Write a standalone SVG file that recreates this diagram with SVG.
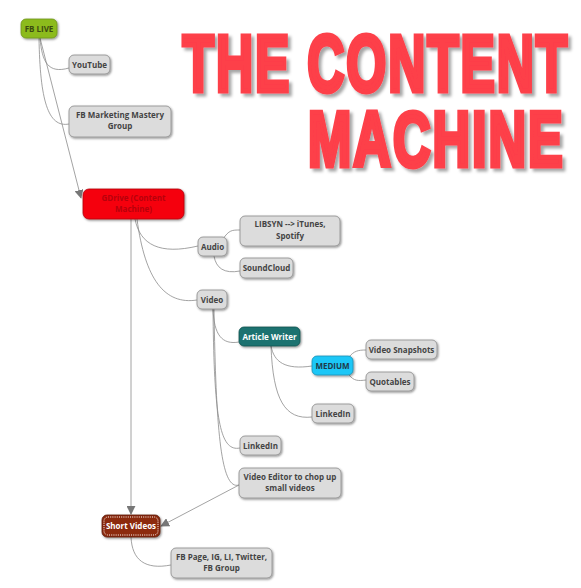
<svg xmlns="http://www.w3.org/2000/svg" width="581" height="588" viewBox="0 0 581 588">
<style>
.n rect{fill:#dcdcdc;stroke:#8a8a8a;stroke-width:0.8;filter:url(#sh)}
.t{font-family:"Open Sans","DejaVu Sans",sans-serif;font-weight:bold;font-size:8px;fill:#444;text-anchor:middle}
.c path{fill:none;stroke:#8c8c8c;stroke-width:0.8}
.ttl{font-family:"Liberation Sans",Arial,sans-serif;font-weight:bold;fill:#fd3f4a;stroke:#fd3f4a;stroke-width:5;stroke-linejoin:miter;letter-spacing:3px}
</style>
<defs>
<filter id="sh" x="-20%" y="-30%" width="140%" height="170%">
<feDropShadow dx="1" dy="1.2" stdDeviation="0.8" flood-color="#000" flood-opacity="0.45"/>
</filter>
<filter id="tsh" x="-5%" y="-10%" width="110%" height="130%">
<feDropShadow dx="3" dy="3" stdDeviation="1.5" flood-color="#000" flood-opacity="0.35"/>
</filter>
<marker id="ar" viewBox="0 0 10 10" refX="9" refY="5" markerWidth="9" markerHeight="9" markerUnits="userSpaceOnUse" orient="auto">
<path d="M0,0 L10,5 L0,10 z" fill="#777"/>
</marker>
</defs>
<rect width="581" height="588" fill="#fff"/>
<g id="title" filter="url(#tsh)">
<text class="ttl" font-size="80" transform="translate(182.6,90.5) scale(0.642,1)">THE CONTENT</text>
<text class="ttl" font-size="77" transform="translate(308,165.5) scale(0.675,1)">MACHINE</text>
</g>
<g class="c" id="connectors">
<path d="M40,38 C42,62 48,74 69,68"/>
<path d="M39,38 C40,100 48,128 69,124"/>
<path d="M40,38 L81,198" marker-end="url(#ar)"/>
<path d="M135,219 C140,245 160,255 198,246"/>
<path d="M137,219 C145,280 165,305 197,300"/>
<path d="M131,219 L131,514" marker-end="url(#ar)"/>
<path d="M223,239 C229,230 232,230 240,230"/>
<path d="M214,256 C216,268 224,274 240,271"/>
<path d="M213,309 C214,335 222,345 239,342"/>
<path d="M213,309 C214,420 220,452 240,448"/>
<path d="M214,309 C216,440 222,490 239,485"/>
<path d="M271,346 C274,362 285,370 312,366"/>
<path d="M271,346 C273,400 285,420 312,417"/>
<path d="M349,357 C354,351 358,350 366,350"/>
<path d="M349,375 C354,381 358,381 366,380"/>
<path d="M239,485 L161,526" marker-end="url(#ar)"/>
<path d="M131,537 C132,560 145,570 171,565"/>
</g>
<g id="fb-live"><rect x="21" y="19" width="36" height="19" rx="5" fill="#8cbb1f" stroke="#6e9618" stroke-width="0.8" filter="url(#sh)"/><text class="t" x="39" y="31.5" style="fill:#3b4a10">FB LIVE</text></g>
<g id="youtube" class="n"><rect x="69" y="55" width="41" height="19" rx="5"/><text class="t" x="89.5" y="67.5">YouTube</text></g>
<g id="fb-marketing" class="n"><rect x="69" y="106" width="102" height="31" rx="5"/><text class="t" x="120" y="118">FB Marketing Mastery</text><text class="t" x="120" y="129">Group</text></g>
<g id="gdrive"><rect x="83" y="189" width="101" height="30" rx="6" fill="#f5000e" stroke="#b3000a" stroke-width="0.8" filter="url(#sh)"/><text class="t" x="133.5" y="201" style="fill:#b8000b">GDrive (Content</text><text class="t" x="133.5" y="212" style="fill:#b8000b">Machine)</text></g>
<g id="audio" class="n"><rect x="198" y="237" width="29" height="19" rx="5"/><text class="t" x="212.5" y="249.5">Audio</text></g>
<g id="libsyn" class="n"><rect x="240" y="216" width="100" height="30" rx="5"/><text class="t" x="290" y="227">LIBSYN --&gt; iTunes,</text><text class="t" x="290" y="239">Spotify</text></g>
<g id="soundcloud" class="n"><rect x="240" y="258" width="53" height="20" rx="5"/><text class="t" x="266.5" y="271">SoundCloud</text></g>
<g id="video" class="n"><rect x="197" y="290" width="30" height="19" rx="5"/><text class="t" x="212" y="302.5">Video</text></g>
<g id="article-writer"><rect x="239" y="327" width="61" height="19" rx="5" fill="#1a726f" stroke="#125350" stroke-width="0.8" filter="url(#sh)"/><text class="t" x="269.5" y="339.5" style="fill:#fff">Article Writer</text></g>
<g id="medium"><rect x="312" y="356" width="41" height="19" rx="5" fill="#1ec7f7" stroke="#1590b5" stroke-width="0.8" filter="url(#sh)"/><text class="t" x="332.5" y="368.5" style="fill:#1f3a4a">MEDIUM</text></g>
<g id="video-snapshots" class="n"><rect x="366" y="340" width="71" height="19" rx="5"/><text class="t" x="401.5" y="352.5">Video Snapshots</text></g>
<g id="quotables" class="n"><rect x="366" y="372" width="48" height="19" rx="5"/><text class="t" x="390" y="384.5">Quotables</text></g>
<g id="linkedin-article" class="n"><rect x="312" y="404" width="42" height="19" rx="5"/><text class="t" x="333" y="416.5">LinkedIn</text></g>
<g id="linkedin-video" class="n"><rect x="240" y="436" width="41" height="19" rx="5"/><text class="t" x="260.5" y="448.5">LinkedIn</text></g>
<g id="video-editor" class="n"><rect x="239" y="468" width="102" height="30" rx="5"/><text class="t" x="290" y="480">Video Editor to chop up</text><text class="t" x="290" y="491">small videos</text></g>
<g id="short-videos"><rect x="102" y="515" width="58" height="22" rx="5" fill="#8c2a0e" stroke="#5a1a08" stroke-width="0.8" filter="url(#sh)"/><rect x="104" y="517" width="54" height="18" rx="4" fill="none" stroke="#fff" stroke-width="1" stroke-dasharray="1,1.2"/><text class="t" x="131" y="529" style="fill:#fff">Short Videos</text></g>
<g id="fb-page" class="n"><rect x="171" y="548" width="101" height="30" rx="5"/><text class="t" x="221.5" y="560">FB Page, IG, LI, Twitter,</text><text class="t" x="221.5" y="571">FB Group</text></g>
</svg>
